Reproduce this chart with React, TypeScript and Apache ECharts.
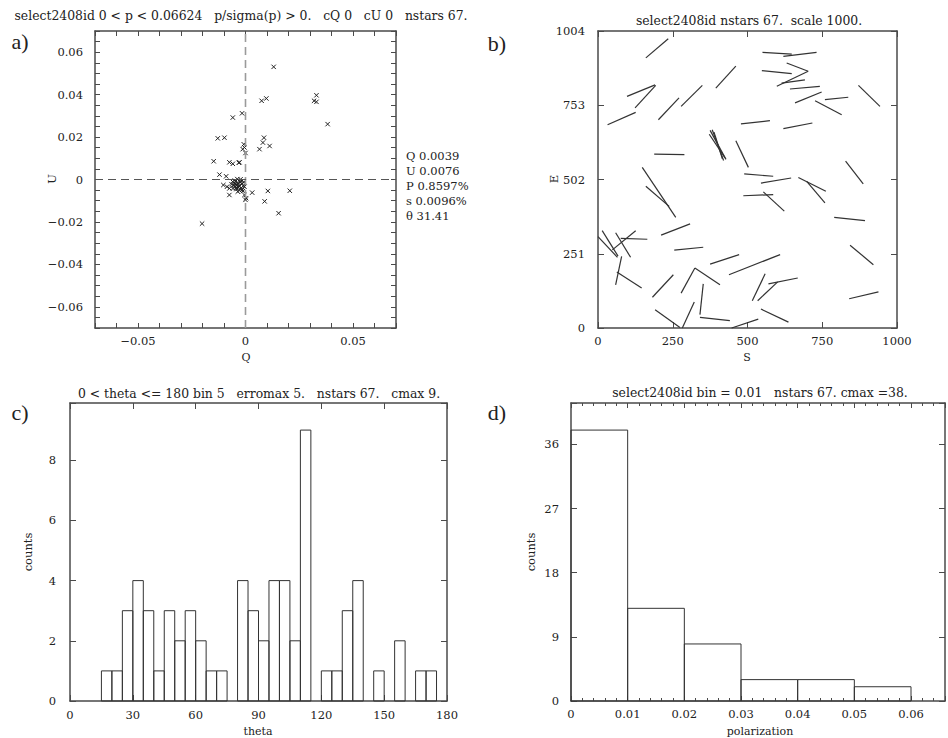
import React, { useEffect, useRef } from 'react';
import * as echarts from 'echarts';

const FONT = "'DejaVu Serif', 'Liberation Serif', serif";
const INK = '#222';
const FRAME = '#4a4a4a';

// a) Stokes parameters of the selected stars
const qValues = [
  0.0131, 0.0075, 0.0097, 0.033, 0.0319, 0.033, 0.0382, -0.0059, -0.0016, -0.0129,
  -0.0098, -0.0148, -0.0075, -0.0059, -0.0031, -0.0028, -0.0008, -0.0005, -0.0013, 0.0,
  0.0065, 0.0081, 0.0086, 0.0112, -0.0121, -0.009, -0.0103, -0.0086, -0.0075, -0.0075,
  -0.0036, -0.0016, -0.0005, -0.0005, 0.0003, 0.0, 0.0031, 0.0089, 0.0104, 0.0206,
  0.0154, -0.0202,
  -0.006, -0.0052, -0.0045, -0.004, -0.0035, -0.003, -0.0048, -0.0025, -0.002, -0.0055,
  -0.0038, -0.0015, -0.0042, -0.0028, -0.0065, -0.0033, -0.001, -0.005, -0.0018, -0.0023,
  -0.0045, -0.0012, -0.0035, -0.0058, -0.0008,
];
const uValues = [
  0.0531, 0.0371, 0.0382, 0.0397, 0.0371, 0.0366, 0.0261, 0.0292, 0.0312, 0.0194,
  0.0197, 0.0086, 0.0081, 0.0074, 0.0079, 0.0081, 0.0166, 0.0151, 0.0143, 0.0125,
  0.0143, 0.0174, 0.0197, 0.0158, 0.0023, 0.0015, -0.0026, -0.0034, -0.0042, -0.0073,
  -0.0057, -0.0049, -0.0034, -0.0073, -0.0088, -0.0096, -0.0062, -0.0103, -0.0054, -0.0053,
  -0.0159, -0.0208,
  -0.001, -0.0018, -0.0008, -0.0025, -0.0015, -0.003, -0.0032, -0.0012, -0.004, -0.0028,
  0.0002, -0.002, -0.0045, -0.005, -0.0022, -0.0038, -0.003, -0.0005, -0.0008, 0.0001,
  -0.004, -0.0055, -0.0022, -0.0042, -0.0012,
];
const qSummary = ['Q 0.0039', 'U 0.0076', 'P 0.8597%', 's 0.0096%', 'θ 31.41'];

// b) polarization vectors on the field: [x1, y1, x2, y2]
const vectorSegments = [
  [160, 913, 235, 978], [550, 932, 648, 926], [620, 918, 731, 932], [631, 896, 703, 868],
  [548, 870, 648, 860], [598, 817, 703, 868], [614, 828, 692, 839], [642, 808, 742, 817],
  [659, 761, 748, 798], [726, 768, 815, 721], [759, 772, 837, 780], [871, 820, 943, 749],
  [97, 783, 191, 822], [124, 744, 193, 820], [32, 687, 126, 729], [202, 704, 271, 778],
  [278, 749, 349, 820], [394, 811, 461, 885], [478, 690, 575, 701], [620, 674, 717, 693],
  [375, 668, 428, 570], [382, 670, 420, 566], [372, 655, 425, 575], [388, 662, 416, 572],
  [188, 588, 289, 586], [461, 633, 503, 543], [828, 564, 887, 487], [148, 543, 260, 374],
  [160, 479, 238, 411], [489, 521, 586, 513], [545, 490, 646, 507], [670, 509, 762, 462],
  [698, 496, 759, 423], [486, 447, 586, 451], [553, 460, 623, 395], [790, 374, 893, 363],
  [211, 314, 308, 352], [0, 309, 65, 239], [14, 329, 67, 243], [59, 322, 109, 239],
  [48, 264, 126, 329], [76, 303, 165, 300], [255, 263, 352, 273], [375, 216, 472, 248],
  [438, 180, 609, 248], [59, 146, 79, 242], [63, 189, 146, 135], [182, 104, 252, 180],
  [278, 118, 324, 203], [324, 203, 408, 146], [341, 45, 352, 149], [341, 36, 441, 25],
  [191, 62, 274, 2], [282, 0, 322, 88], [447, 0, 536, 30], [545, 64, 637, 20],
  [516, 92, 559, 183], [534, 92, 601, 156], [570, 149, 668, 169], [843, 280, 921, 214],
  [840, 99, 938, 122],
];

// c) position-angle histogram
const thetaBinWidth = 5;
const thetaBinStart = Array.from({ length: 36 }, (_, i) => i * thetaBinWidth);
const thetaCounts = [
  0, 0, 0, 1, 1, 3, 4, 3, 1, 3, 2, 3, 2, 1, 1, 0, 4, 3,
  2, 4, 4, 2, 9, 0, 1, 1, 3, 4, 0, 1, 0, 2, 0, 1, 1, 0,
];

// d) polarization histogram
const polBinWidth = 0.01;
const polBinStart = [0, 0.01, 0.02, 0.03, 0.04, 0.05];
const polCounts = [38, 13, 8, 3, 3, 2];

const labelFont = { color: INK, fontFamily: FONT, fontSize: 11.5 };
const TITLE_SIZE = 12.4;

function signed(v: number, digits: number) {
  if (Math.abs(v) < 1e-9) return '0';
  return (v < 0 ? '−' : '') + Math.abs(v).toFixed(digits);
}

function axisPair(
  dim: 'x' | 'y',
  grid: number,
  min: number,
  max: number,
  interval: number,
  margin: number,
  formatter: any,
  tickLen: number,
  minor: number,
) {
  const base: any = {
    type: 'value',
    gridIndex: grid,
    min,
    max,
    interval,
    splitLine: { show: false },
    axisLine: { show: true, onZero: false, lineStyle: { color: FRAME, width: 1.5 } },
    axisTick: { show: true, inside: true, length: tickLen, lineStyle: { color: FRAME, width: 1 } },
    minorTick: minor
      ? { show: true, splitNumber: minor, length: 3, lineStyle: { color: FRAME, width: 1 } }
      : { show: false },
  };
  return [
    {
      ...base,
      position: dim === 'x' ? 'bottom' : 'left',
      axisLabel: { show: true, margin, formatter, ...labelFont },
    },
    { ...base, position: dim === 'x' ? 'top' : 'right', axisLabel: { show: false } },
  ];
}

function histogramItem(params: any, api: any) {
  const count = api.value(2);
  if (!(count > 0)) return { type: 'group', children: [] };
  const p0 = api.coord([api.value(0), count]);
  const p1 = api.coord([api.value(1), 0]);
  return {
    type: 'rect',
    shape: { x: p0[0], y: p0[1], width: p1[0] - p0[0], height: p1[1] - p0[1] },
    style: { fill: 'none', stroke: '#333', lineWidth: 1 },
  };
}

function txt(text: string, x: number, y: number, size: number, extra: any = {}) {
  return {
    type: 'text',
    x,
    y,
    rotation: extra.rotation || 0,
    style: {
      text,
      fill: INK,
      fontFamily: extra.family || FONT,
      fontSize: size,
      align: extra.align || 'center',
      verticalAlign: 'middle',
    },
  };
}

export default function App() {
  const ref = useRef<HTMLDivElement>(null);

  useEffect(() => {
    if (!ref.current) return;
    const chart = echarts.init(ref.current, undefined, { renderer: 'svg' });

    const fmtQ = (v: number) => {
      const k = Math.round(v * 100);
      if (Math.abs(v * 100 - k) > 1e-6 || k % 5 !== 0 || Math.abs(v) > 0.065) return '';
      return signed(v, 2);
    };
    const fmtU = (v: number) => {
      const k = Math.round(v * 1000);
      if (Math.abs(v * 1000 - k) > 1e-6 || k % 20 !== 0 || Math.abs(v) > 0.065) return '';
      return signed(v, 2);
    };
    const fmtPol = (v: number) => {
      const k = Math.round(v * 100);
      if (Math.abs(v * 100 - k) > 1e-6) return '';
      return k === 0 ? '0' : v.toFixed(2);
    };

    const xAxes = [
      ...axisPair('x', 0, -0.07, 0.07, 0.01, 7, fmtQ, 5, 0),
      ...axisPair('x', 1, 0, 1000, 250, 7, (v: number) => String(v), 6, 0),
      ...axisPair('x', 2, 0, 180, 30, 8, (v: number) => String(v), 6, 0),
      ...axisPair('x', 3, 0, 0.066, 0.01, 7, fmtPol, 5, 5),
    ];
    const yAxes = [
      ...axisPair('y', 0, -0.07, 0.07, 0.005, 12, fmtU, 5, 0),
      ...axisPair('y', 1, 0, 1004, 251, 13, (v: number) => String(v), 6, 0),
      ...axisPair('y', 2, 0, 9.9, 2, 14, (v: number) => (v > 9 ? '' : String(v)), 6, 0),
      ...axisPair('y', 3, 0, 41.8, 9, 12, (v: number) => (v > 40 ? '' : String(v)), 6, 0),
    ];

    const quData = qValues.map((q, i) => [q, uValues[i]]);
    const thetaData = thetaCounts.map((c, i) => [thetaBinStart[i], thetaBinStart[i] + thetaBinWidth, c]);
    const polData = polCounts.map((c, i) => [polBinStart[i], polBinStart[i] + polBinWidth, c]);

    const graphics: any[] = [
      txt('select2408id 0 < p < 0.06624   p/sigma(p) > 0.   cQ 0   cU 0   nstars 67.', 241, 15, TITLE_SIZE),
      txt('select2408id nstars 67.  scale 1000.', 749, 20, TITLE_SIZE),
      txt('0 < theta <= 180 bin 5   erromax 5.   nstars 67.   cmax 9.', 259, 393, TITLE_SIZE),
      txt('select2408id bin = 0.01   nstars 67. cmax =38.', 760, 392, TITLE_SIZE),
      txt('a)', 20, 41, 22, { family: "'Liberation Serif', serif" }),
      txt('b)', 497, 43, 22, { family: "'Liberation Serif', serif" }),
      txt('c)', 20, 412, 22, { family: "'Liberation Serif', serif" }),
      txt('d)', 497, 412, 22, { family: "'Liberation Serif', serif" }),
      txt('Q', 246, 357, 11),
      txt('U', 52, 179, 11.5, { rotation: Math.PI / 2 }),
      txt('S', 747, 357, 11),
      txt('E', 554, 179, 11.5, { rotation: Math.PI / 2 }),
      txt('theta', 258, 731, 11),
      txt('counts', 28, 552, 11.5, { rotation: Math.PI / 2 }),
      txt('polarization', 760, 731, 11),
      txt('counts', 531, 552, 11.5, { rotation: Math.PI / 2 }),
      ...qSummary.map((s, i) => txt(s, 406, 156 + i * 15, 11.5, { align: 'left' })),
    ];

    chart.setOption({
      animation: false,
      backgroundColor: '#fff',
      grid: [
        { left: 95, top: 31, width: 301, height: 297 },
        { left: 598, top: 31, width: 299, height: 297 },
        { left: 70, top: 403, width: 377, height: 298 },
        { left: 571, top: 403, width: 376, height: 298 },
      ],
      xAxis: xAxes,
      yAxis: yAxes,
      graphic: graphics,
      series: [
        {
          type: 'line',
          xAxisIndex: 0,
          yAxisIndex: 0,
          data: [[0, -0.07], [0, 0.07]],
          symbol: 'none',
          lineStyle: { color: '#9a9a9a', width: 1.6, type: [8, 5] },
          silent: true,
        },
        {
          type: 'line',
          xAxisIndex: 0,
          yAxisIndex: 0,
          data: [[-0.07, 0], [0.07, 0]],
          symbol: 'none',
          lineStyle: { color: '#555', width: 1.2, type: [8, 5] },
          silent: true,
        },
        {
          type: 'custom',
          xAxisIndex: 0,
          yAxisIndex: 0,
          data: quData,
          renderItem: (params: any, api: any) => {
            const p = api.coord([api.value(0), api.value(1)]);
            const r = 2.2;
            const st = { stroke: '#222', lineWidth: 1 };
            return {
              type: 'group',
              children: [
                { type: 'line', shape: { x1: p[0] - r, y1: p[1] - r, x2: p[0] + r, y2: p[1] + r }, style: st },
                { type: 'line', shape: { x1: p[0] - r, y1: p[1] + r, x2: p[0] + r, y2: p[1] - r }, style: st },
              ],
            };
          },
        },
        {
          type: 'custom',
          xAxisIndex: 2,
          yAxisIndex: 2,
          data: vectorSegments,
          renderItem: (params: any, api: any) => {
            const a = api.coord([api.value(0), api.value(1)]);
            const b = api.coord([api.value(2), api.value(3)]);
            return {
              type: 'line',
              shape: { x1: a[0], y1: a[1], x2: b[0], y2: b[1] },
              style: { stroke: '#333', lineWidth: 1.2 },
            };
          },
        },
        {
          type: 'custom',
          xAxisIndex: 4,
          yAxisIndex: 4,
          data: thetaData,
          renderItem: histogramItem,
        },
        {
          type: 'custom',
          xAxisIndex: 6,
          yAxisIndex: 6,
          data: polData,
          renderItem: histogramItem,
        },
      ],
    });

    return () => chart.dispose();
  }, []);

  return (
    <div
      ref={ref}
      style={{ position: 'absolute', left: 0, top: 0, width: 948, height: 738, background: '#fff' }}
    />
  );
}
